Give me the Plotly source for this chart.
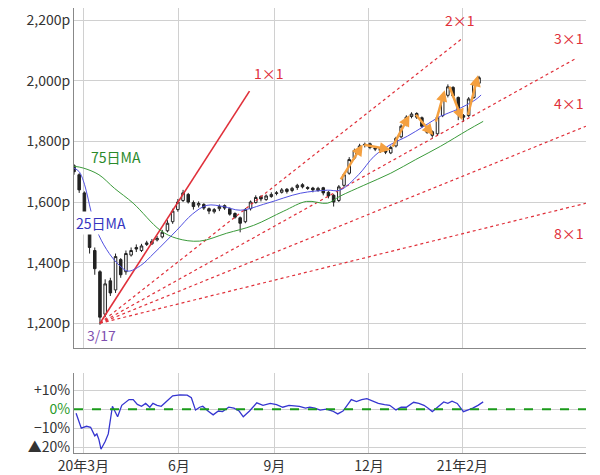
import plotly.graph_objects as go
from plotly.subplots import make_subplots

days = list(range(-9, 382, 5))
close = [1700,1640,1560,1450,1380,1220,1330,1300,1420,1360,1430,1440,1445,1455,1465,1470,1480,1500,1530,1570,
         1600,1630,1600,1585,1595,1580,1570,1575,1585,1580,1560,1550,1530,1575,1600,1615,1610,1620,1625,1630,
         1640,1635,1645,1655,1650,1645,1640,1645,1630,1620,1600,1650,1690,1740,1770,1785,1790,1780,1775,1770,
         1765,1780,1810,1850,1880,1890,1880,1850,1830,1820,1880,1950,1980,1950,1890,1880,1940,1990,2010]
open_ = [1720,1690,1630,1540,1440,1370,1230,1340,1310,1410,1370,1425,1450,1440,1460,1462,1475,1485,1505,1535,
         1575,1605,1625,1598,1590,1592,1578,1568,1578,1588,1578,1562,1548,1535,1578,1598,1618,1608,1618,1628,
         1632,1642,1638,1648,1657,1648,1646,1638,1647,1632,1622,1605,1655,1695,1745,1772,1788,1792,1778,1777,
         1768,1762,1785,1815,1855,1882,1892,1878,1848,1832,1825,1885,1952,1978,1945,1885,1885,1945,1992]
high = [1725,1695,1635,1545,1450,1375,1345,1350,1430,1415,1440,1450,1460,1462,1472,1478,1488,1508,1540,1578,
        1610,1640,1630,1605,1602,1596,1582,1580,1592,1592,1582,1566,1552,1580,1605,1622,1622,1625,1632,1636,
        1646,1646,1650,1660,1662,1652,1650,1650,1650,1636,1626,1656,1696,1748,1776,1792,1796,1796,1782,1780,
        1772,1786,1815,1856,1886,1896,1896,1882,1852,1836,1886,1956,1988,1982,1948,1890,1946,1996,2016]
low = [1690,1630,1550,1430,1360,1195,1220,1290,1300,1350,1360,1420,1435,1435,1455,1458,1470,1480,1500,1528,
       1568,1600,1595,1575,1582,1574,1560,1562,1570,1574,1555,1545,1500,1530,1572,1595,1602,1604,1614,1622,
       1628,1628,1632,1640,1645,1640,1632,1634,1622,1612,1585,1600,1648,1690,1740,1765,1780,1774,1768,1762,
       1758,1758,1780,1810,1850,1876,1874,1845,1825,1812,1818,1880,1945,1945,1870,1865,1880,1940,1988]

ma25_days = [-9,-4,0,4,8,15,25,35,43,55,68,90,105,119,135,151,177,209,235,247,265,280,296,312,328,344,360,377,383]
ma25 = [1712,1700,1670,1620,1560,1490,1430,1390,1372,1390,1431,1507,1560,1589,1585,1573,1596,1629,1639,1639,1690,1751,1790,1817,1850,1883,1905,1936,1953]
ma75_days = [-9,0,15,30,48,74,90,112,138,164,193,215,235,247,270,296,320,344,370,385]
ma75 = [1718,1712,1690,1645,1596,1507,1480,1471,1497,1523,1570,1602,1596,1619,1655,1695,1740,1784,1837,1866]

fan_names = ["1×1","2×1","3×1","4×1","8×1"]
fan_start = (16, 1200)
fan_end_day = [160, 365, 475, 484, 484]
fan_end_price = [1966, 2140, 2075, 1850, 1596]

arrow_from = [(247,1670),(269,1790),(297,1778),(319,1893),(339,1860),(352,1985),(370,1883)]
arrow_to = [(269,1790),(296,1772),(314,1887),(337,1820),(348,1969),(365,1870),(380,2018)]

dev_days = [-7,-3,-2,3,7,11,13,15,17,21,24,28,30,33,37,41,44,48,52,56,60,64,67,71,75,80,86,93,100,104,108,112,115,120,125,130,134,140,145,150,154,160,167,173,180,186,192,198,204,208,214,218,223,228,234,240,245,250,254,258,263,268,273,279,284,290,295,301,306,311,318,323,328,332,336,341,347,351,355,360,366,370,375,380,385]
dev = [-2.2,-7.6,-10,-9,-9.5,-14,-13,-16,-21,-17,-13,1.5,-1,-4,2,4,5,5,2.5,1.5,3,1,3,2,1.5,4,7,7.5,7.3,6,-0.5,1,1.5,-1,-3,-1,-1.3,1,0.5,-1,-4,-1,3.3,2,3,2.4,1,2,1.5,1.5,0.5,1,0.5,-0.5,0,-1,-2.5,-1,2,5,4,5,5.5,4,3,2.4,2,-0.4,1,1,3.6,3,2,0.5,-1.3,1,3.8,3,4.2,3,-1.3,-0.5,0.5,2,3.8]

tick_days = [0, 92, 184, 275, 365]
tick_text = ["20年3月", "6月", "9月", "12月", "21年2月"]

fig = make_subplots(rows=2, cols=1, shared_xaxes=False)

red = "#e0303a"
for i, n in enumerate(fan_names):
    fig.add_trace(go.Scatter(x=[fan_start[0], fan_end_day[i]], y=[fan_start[1], fan_end_price[i]], mode="lines",
                             line=dict(color=red, width=1.6 if i == 0 else 1.2, dash="solid" if i == 0 else "dot"),
                             hoverinfo="skip"), row=1, col=1)
fig.add_trace(go.Scatter(x=ma75_days, y=ma75, mode="lines", line=dict(color="#3a9a3a", width=1, shape="spline")), row=1, col=1)
fig.add_trace(go.Scatter(x=ma25_days, y=ma25, mode="lines", line=dict(color="#5050e0", width=1, shape="spline")), row=1, col=1)
fig.add_trace(go.Candlestick(x=days, open=open_, high=high, low=low, close=close,
                             increasing=dict(line=dict(color="#222", width=1), fillcolor="white"),
                             decreasing=dict(line=dict(color="#222", width=1), fillcolor="#222"),
                             whiskerwidth=0), row=1, col=1)

for a, b in zip(arrow_from, arrow_to):
    fig.add_annotation(x=b[0], y=b[1], ax=a[0], ay=a[1], xref="x", yref="y", axref="x", ayref="y",
                       showarrow=True, arrowhead=2, arrowsize=0.9, arrowwidth=2.5, arrowcolor="#f4a040", text="")

fig.add_trace(go.Scatter(x=dev_days, y=dev, mode="lines", line=dict(color="#3535d0", width=1.3)), row=2, col=1)
fig.add_hline(y=0, line=dict(color="#1a9a1a", width=2, dash="dash"), row=2, col=1)

font = "Noto Sans CJK JP"
lab_days = [179, 363, 484, 484, 484]
lab_price = [2025, 2200, 2140, 1926, 1497]
lab_anchor = ["center", "center", "right", "right", "right"]
for i, n in enumerate(fan_names):
    fig.add_annotation(x=lab_days[i], y=lab_price[i], text=n, showarrow=False, font=dict(color=red, size=14),
                       xref="x", yref="y", xanchor=lab_anchor[i])
fig.add_annotation(x=31, y=1750, text="75日MA", showarrow=False, font=dict(color="#2a8a2a", size=14), xref="x", yref="y")
fig.add_annotation(x=-9, y=1530, text="25日MA", showarrow=False, font=dict(color="#3535c0", size=14), xref="x", yref="y",
                   xanchor="left", bgcolor="white")
fig.add_annotation(x=17, y=1160, text="3/17", showarrow=False, font=dict(color="#8050b0", size=14), xref="x", yref="y")

grid = "#d0d0d0"
fig.update_xaxes(range=[-9, 484], tickvals=tick_days, ticktext=tick_text, showgrid=True, gridcolor=grid,
                 zeroline=False, showline=True, linecolor="#888", ticks="", tickfont=dict(size=14, color="#333"))
fig.update_xaxes(showticklabels=False, rangeslider_visible=False, row=1, col=1)
fig.update_yaxes(range=[1117, 2240], tickvals=[1200, 1400, 1600, 1800, 2000, 2200],
                 ticktext=["1,200p", "1,400p", "1,600p", "1,800p", "2,000p", "2,200p"], showgrid=True, gridcolor=grid,
                 zeroline=False, showline=True, linecolor="#888", ticks="", tickfont=dict(size=14, color="#333"),
                 domain=[0.235, 1], row=1, col=1)
fig.update_yaxes(range=[-23, 19], tickvals=[10, 0, -10, -20], ticktext=["+10%", "<span style='color:#2a9a2a'>0%</span>", "−10%", "▲20%"],
                 showgrid=True, gridcolor=grid, zeroline=False, showline=True, linecolor="#888", ticks="",
                 tickfont=dict(size=14, color="#333"), domain=[0, 0.18], row=2, col=1)

fig.update_layout(width=600, height=475, margin=dict(l=66, r=22, t=0, b=30, pad=0), showlegend=False,
                  plot_bgcolor="white", paper_bgcolor="white", font=dict(family=font))
fig.write_html("out.html")
